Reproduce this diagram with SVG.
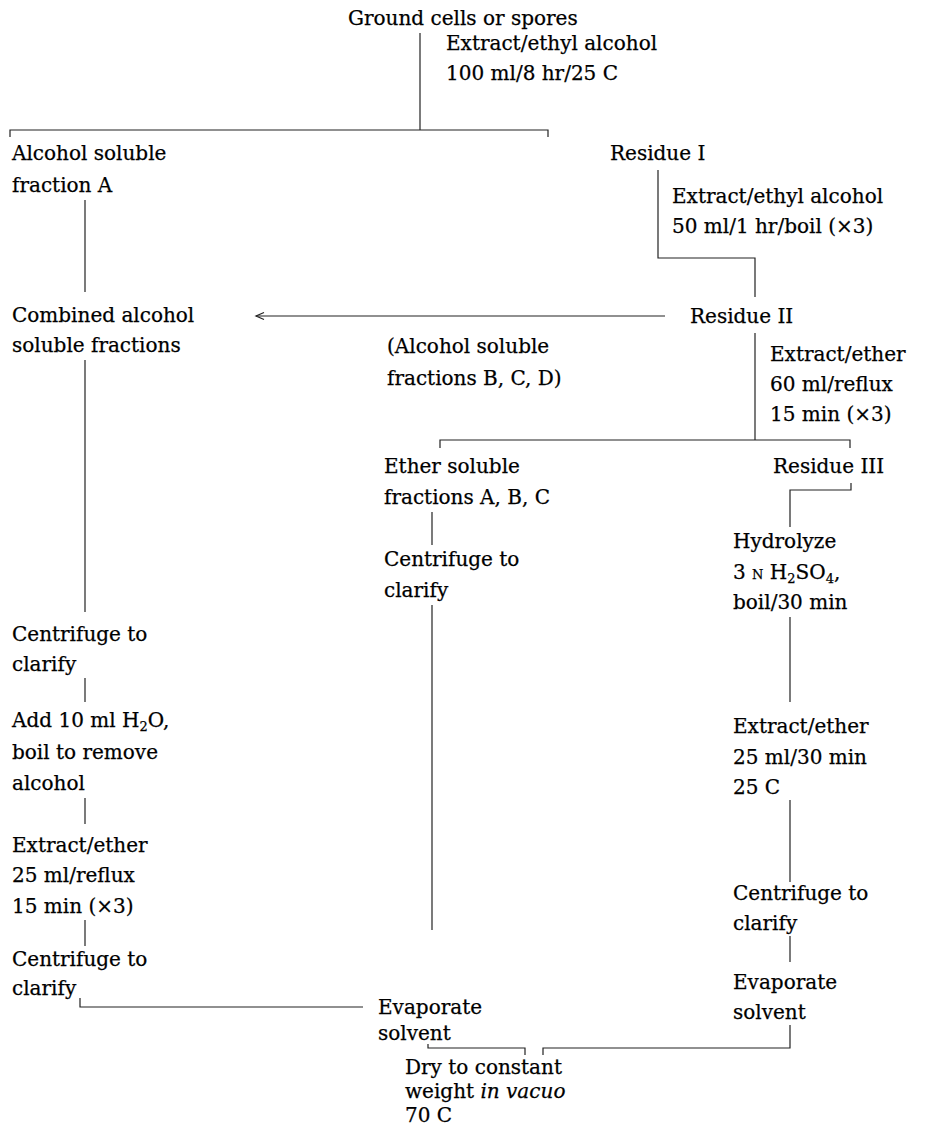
<svg xmlns="http://www.w3.org/2000/svg" width="925" height="1125" viewBox="0 0 925 1125">
<defs>
<style>
text{font-family:"DejaVu Serif","Liberation Serif",serif;font-size:20px;fill:#000;stroke:#000;stroke-width:0.25}
.c{fill:none;stroke:#222;stroke-width:1.2}
.sm{font-size:13px}
</style>
<marker id="ah" markerWidth="12" markerHeight="10" refX="9" refY="5" orient="auto" markerUnits="userSpaceOnUse">
<path d="M1,1.5 L9,5 L1,8.5" fill="none" stroke="#222" stroke-width="1.2"/>
</marker>
</defs>
<rect width="925" height="1125" fill="#fff"/>
<g id="connectors">
<path class="c" d="M420,33 V130"/>
<path class="c" d="M10,137 V130 H548 V137"/>
<path class="c" d="M658,170 V258 H755 V297"/>
<path class="c" d="M85,200 V292"/>
<path class="c" d="M665,316 H256" marker-end="url(#ah)"/>
<path class="c" d="M755,333 V440"/>
<path class="c" d="M440,448 V440 H850 V448"/>
<path class="c" d="M851,483 V490 H790 V527"/>
<path class="c" d="M432,512 V545"/>
<path class="c" d="M432,605 V930"/>
<path class="c" d="M85,360 V612"/>
<path class="c" d="M85,678 V702"/>
<path class="c" d="M85,798 V824"/>
<path class="c" d="M85,920 V946"/>
<path class="c" d="M80,998 V1007 H363"/>
<path class="c" d="M790,617 V702"/>
<path class="c" d="M790,800 V882"/>
<path class="c" d="M790,936 V962"/>
<path class="c" d="M790,1025 V1048 H543 V1055"/>
<path class="c" d="M428,1044 V1048 H525 V1055"/>
</g>
<g id="n-ground"><text x="348" y="25">Ground cells or spores</text></g>
<g id="l-extract1"><text x="446" y="50">Extract/ethyl alcohol</text><text x="446" y="80">100 ml/8 hr/25 C</text></g>
<g id="n-fracA"><text x="12" y="160">Alcohol soluble</text><text x="12" y="192">fraction A</text></g>
<g id="n-res1"><text x="610" y="160">Residue I</text></g>
<g id="l-extract2"><text x="672" y="203">Extract/ethyl alcohol</text><text x="672" y="233">50 ml/1 hr/boil (×3)</text></g>
<g id="n-combined"><text x="12" y="322">Combined alcohol</text><text x="12" y="352">soluble fractions</text></g>
<g id="n-res2"><text x="690" y="323">Residue II</text></g>
<g id="l-bcd"><text x="387" y="353">(Alcohol soluble</text><text x="387" y="385">fractions B, C, D)</text></g>
<g id="l-ether1"><text x="770" y="361">Extract/ether</text><text x="770" y="391">60 ml/reflux</text><text x="770" y="421">15 min (×3)</text></g>
<g id="n-ethersol"><text x="384" y="473">Ether soluble</text><text x="384" y="504">fractions A, B, C</text></g>
<g id="n-res3"><text x="773" y="473">Residue III</text></g>
<g id="n-cent-mid"><text x="384" y="566">Centrifuge to</text><text x="384" y="597">clarify</text></g>
<g id="n-hydro"><text x="733" y="548">Hydrolyze</text><text x="733" y="579">3 <tspan class="sm">N</tspan> H<tspan class="sm" dy="4">2</tspan><tspan dy="-4">SO</tspan><tspan class="sm" dy="4">4</tspan><tspan dy="-4">,</tspan></text><text x="733" y="609">boil/30 min</text></g>
<g id="n-cent-left1"><text x="12" y="641">Centrifuge to</text><text x="12" y="671">clarify</text></g>
<g id="n-add"><text x="12" y="727">Add 10 ml H<tspan class="sm" dy="4">2</tspan><tspan dy="-4">O,</tspan></text><text x="12" y="759">boil to remove</text><text x="12" y="790">alcohol</text></g>
<g id="n-ether-left"><text x="12" y="852">Extract/ether</text><text x="12" y="882">25 ml/reflux</text><text x="12" y="913">15 min (×3)</text></g>
<g id="n-cent-left2"><text x="12" y="966">Centrifuge to</text><text x="12" y="995">clarify</text></g>
<g id="n-ether-right"><text x="733" y="733">Extract/ether</text><text x="733" y="764">25 ml/30 min</text><text x="733" y="794">25 C</text></g>
<g id="n-cent-right"><text x="733" y="900">Centrifuge to</text><text x="733" y="930">clarify</text></g>
<g id="n-evap-right"><text x="733" y="989">Evaporate</text><text x="733" y="1019">solvent</text></g>
<g id="n-evap-mid"><text x="378" y="1014">Evaporate</text><text x="378" y="1040">solvent</text></g>
<g id="n-dry"><text x="405" y="1074">Dry to constant</text><text x="405" y="1098">weight <tspan font-style="italic">in vacuo</tspan></text><text x="405" y="1122">70 C</text></g>
</svg>
